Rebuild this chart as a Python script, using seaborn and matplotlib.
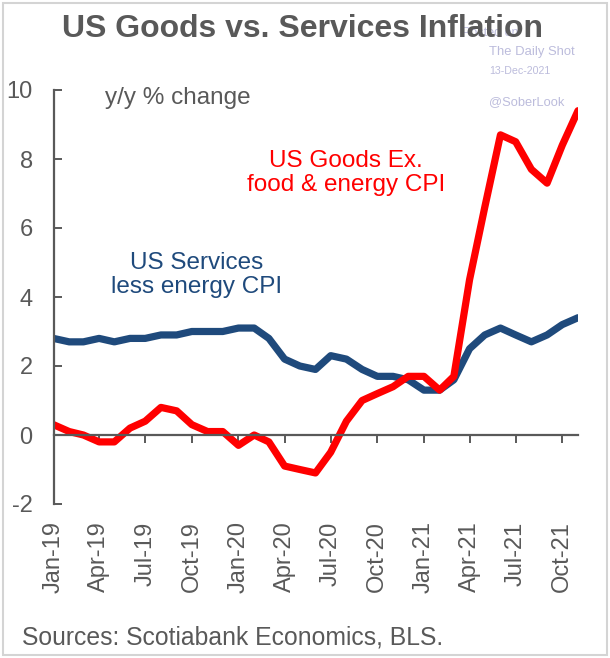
import numpy as np
import pandas as pd
import matplotlib
matplotlib.use("Agg")
import matplotlib.pyplot as plt
import matplotlib.dates as mdates
from matplotlib.patches import Rectangle
import seaborn as sns

# ---- data ----
months = pd.date_range("2019-01-01", "2021-11-01", freq="MS")
goods_cpi = [0.3, 0.1, 0.0, -0.2, -0.2, 0.2, 0.4, 0.8, 0.7, 0.3, 0.1, 0.1,
             -0.3, 0.0, -0.2, -0.9, -1.0, -1.1, -0.5, 0.4, 1.0, 1.2, 1.4, 1.7,
             1.7, 1.3, 1.7, 4.5, 6.6, 8.7, 8.5, 7.7, 7.3, 8.4, 9.4]
services_cpi = [2.8, 2.7, 2.7, 2.8, 2.7, 2.8, 2.8, 2.9, 2.9, 3.0, 3.0, 3.0,
                3.1, 3.1, 2.8, 2.2, 2.0, 1.9, 2.3, 2.2, 1.9, 1.7, 1.7, 1.6,
                1.3, 1.3, 1.6, 2.5, 2.9, 3.1, 2.9, 2.7, 2.9, 3.2, 3.4]
tick_labels = ["Jan-19", "Apr-19", "Jul-19", "Oct-19", "Jan-20", "Apr-20",
               "Jul-20", "Oct-20", "Jan-21", "Apr-21", "Jul-21", "Oct-21"]
y_ticks = [-2, 0, 2, 4, 6, 8, 10]

df = pd.DataFrame({"month": months, "goods": goods_cpi, "services": services_cpi})

# ---- style ----
sns.set_style("white")
plt.rcParams["font.family"] = ["Liberation Sans", "DejaVu Sans"]

GREY = "#595959"
RED = "#FF0000"
NAVY = "#1F4A7C"
WM = "#bcbcdc"

W, H = 610, 658
fig = plt.figure(figsize=(W / 100, H / 100), dpi=100)
ax = fig.add_axes([53.5 / W, 1 - 504 / H, (578 - 53.5) / W, (504 - 90) / H])

sns.lineplot(data=df, x="month", y="services", color=NAVY, linewidth=5.2, ax=ax)
sns.lineplot(data=df, x="month", y="goods", color=RED, linewidth=5.2, ax=ax)

ax.set_xlim(months[0], months[-1])
ax.set_ylim(-2, 10)
ax.set_xlabel("")
ax.set_ylabel("")

for s in ["top", "right"]:
    ax.spines[s].set_visible(False)
ax.spines["left"].set_color(GREY)
ax.spines["left"].set_linewidth(1.6)
ax.spines["bottom"].set_color(GREY)
ax.spines["bottom"].set_linewidth(1.6)
ax.spines["bottom"].set_position(("data", 0))

tick_dates = months[::3]
ax.set_xticks(tick_dates)
ax.tick_params(axis="x", direction="out", length=6, width=1.4, color=GREY,
               labelbottom=False, bottom=True)
ax.set_yticks(y_ticks)
ax.set_yticklabels([str(v) for v in y_ticks])
ax.tick_params(axis="y", direction="in", length=6, width=1.4, color=GREY,
               labelsize=17, labelcolor=GREY, pad=15, left=True)

sec = ax.secondary_xaxis("bottom")
sec.set_xticks(mdates.date2num(tick_dates))
sec.set_xticklabels(tick_labels, rotation=90)
sec.tick_params(axis="x", length=0, pad=12.5, labelsize=17, labelcolor=GREY)
for sp in sec.spines.values():
    sp.set_visible(False)

# ---- text ----
fig.text(462 / W, 1 - 33 / H, "Posted on", fontsize=9, color=WM, ha="left",
         va="center", zorder=1)
fig.text(302 / W, 1 - 29 / H, "US Goods vs. Services Inflation", fontsize=23,
         fontweight="bold", color=GREY, ha="center", va="center", zorder=5)
fig.text(489 / W, 1 - 52 / H, "The Daily Shot", fontsize=9.4, color=WM,
         ha="left", va="center")
fig.text(489 / W, 1 - 71 / H, "13-Dec-2021", fontsize=7.7, color=WM,
         ha="left", va="center")
fig.text(489 / W, 1 - 102 / H, "@SoberLook", fontsize=9.3, color=WM,
         ha="left", va="center")

fig.text(178 / W, 1 - 98 / H, "y/y % change", fontsize=17.5, color=GREY,
         ha="center", va="center")
fig.text(346 / W, 1 - 173 / H, "US Goods Ex.\nfood & energy CPI", fontsize=17.5,
         color=RED, ha="center", va="center", multialignment="center",
         linespacing=1.15)
fig.text(197 / W, 1 - 275 / H, "US Services\nless energy CPI", fontsize=17.5,
         color=NAVY, ha="center", va="center", multialignment="center",
         linespacing=1.15)

fig.text(22 / W, 1 - 638 / H, "Sources: Scotiabank Economics, BLS.",
         fontsize=17.8, color=GREY, ha="left", va="center")

fig.add_artist(Rectangle((3 / W, 3 / H), 604 / W, 652 / H,
                         transform=fig.transFigure, fill=False,
                         edgecolor="#d4d4d4", linewidth=1.5))

fig.savefig("out.png", dpi=100)
